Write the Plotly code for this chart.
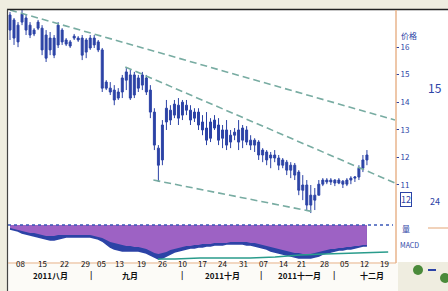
import plotly.graph_objects as go

# ---------------- data ----------------
bar_index = list(range(90))
open_ = [17.17,16.99,16.80,16.91,17.06,16.80,16.62,16.91,16.69,16.44,
         15.90,16.33,16.08,16.62,16.26,16.19,16.40,16.33,16.33,15.82,
         16.33,16.08,16.19,15.90,14.73,14.51,14.44,14.15,14.37,14.80,
         14.99,14.26,14.88,14.62,14.88,14.44,13.64,12.33,11.90,13.28,
         13.71,13.53,13.89,13.53,13.89,13.71,13.42,13.64,13.28,13.06,
         12.69,13.35,13.17,12.69,12.99,12.55,12.80,12.99,12.62,12.99,
         12.62,12.44,12.55,12.08,12.19,11.97,12.08,11.97,11.71,11.82,
         11.53,11.71,11.46,10.80,10.99,10.26,10.62,10.62,11.02,11.17,
         11.10,11.17,11.06,11.13,11.02,11.17,11.24,11.28,11.60,11.90]
high = [17.28,17.06,16.91,17.35,17.17,16.91,16.69,16.99,16.80,16.62,
        16.55,16.44,16.91,16.69,16.33,16.26,16.48,16.40,16.44,16.33,
        16.44,16.44,16.26,15.97,14.80,14.73,14.62,14.51,14.99,15.24,
        15.17,15.10,14.99,15.10,14.99,14.62,13.78,12.44,13.35,14.08,
        13.89,14.08,14.15,14.08,14.08,13.89,13.78,13.78,13.53,13.64,
        13.42,13.53,13.42,13.17,13.35,12.99,13.06,13.35,13.17,13.13,
        12.80,12.69,12.62,12.33,12.26,12.19,12.26,12.08,11.97,11.90,
        11.82,11.79,11.53,11.35,11.17,10.99,10.88,11.17,11.24,11.24,
        11.24,11.20,11.24,11.17,11.24,11.31,11.31,11.71,12.08,12.26]
low = [16.26,16.08,16.00,16.80,16.44,16.33,16.40,16.62,15.71,15.46,
       15.71,15.60,15.97,16.08,16.04,15.97,16.26,16.19,15.53,15.60,
       15.90,15.97,15.82,14.37,14.44,14.26,13.89,14.08,14.15,14.44,
       14.08,14.15,14.37,14.44,14.26,13.42,12.26,11.10,11.71,12.99,
       13.17,13.42,13.17,13.35,13.53,13.17,13.28,12.99,12.80,12.44,
       12.55,12.99,12.44,12.33,12.26,12.33,12.62,12.26,12.33,12.44,
       12.26,12.19,11.90,11.82,11.71,11.60,11.82,11.53,11.60,11.35,
       11.24,11.17,10.62,10.44,10.08,9.97,10.08,10.62,10.95,11.02,
       10.99,10.95,11.02,10.88,10.95,11.02,11.10,11.17,11.46,11.71]
close = [16.62,16.33,16.19,17.20,16.62,16.44,16.48,16.69,15.90,15.60,
         16.33,15.71,16.80,16.19,16.11,16.04,16.33,16.26,15.71,16.26,
         15.97,16.33,15.90,14.51,14.51,14.37,14.08,14.37,14.88,15.10,
         14.15,14.99,14.51,14.99,14.37,13.64,12.44,11.71,13.17,13.78,
         13.35,13.93,13.42,14.00,13.71,13.35,13.64,13.17,12.99,12.62,
         13.28,13.06,12.62,12.99,12.44,12.80,12.91,12.55,13.06,12.55,
         12.44,12.62,12.08,12.26,11.90,12.08,11.97,11.71,11.90,11.53,
         11.71,11.35,10.80,10.99,10.26,10.62,10.44,11.02,11.17,11.10,
         11.17,11.06,11.17,11.02,11.17,11.24,11.28,11.60,11.90,12.08]

# trend lines (index, price)
upper_line_x = [0, 96]
upper_line_y = [17.35, 13.35]
channel_top_x = [28.75, 96]
channel_top_y = [15.28, 11.06]
channel_low_x = [35.75, 75.5]
channel_low_y = [11.17, 10.02]

# MACD-style lower panel
macd_blue = [-0.4,-0.5,-0.6,-0.8,-0.9,-1.0,-1.1,-1.2,-1.3,-1.4,
             -1.5,-1.5,-1.4,-1.3,-1.2,-1.2,-1.2,-1.2,-1.2,-1.2,
             -1.2,-1.3,-1.4,-1.6,-1.9,-2.2,-2.4,-2.5,-2.6,-2.6,
             -2.6,-2.6,-2.6,-2.7,-2.8,-3.0,-3.2,-3.4,-3.3,-3.1,
             -2.9,-2.7,-2.6,-2.5,-2.4,-2.3,-2.3,-2.2,-2.2,-2.1,
             -2.1,-2.0,-2.0,-2.0,-1.9,-1.9,-1.9,-1.9,-1.9,-2.0,
             -2.0,-2.1,-2.2,-2.3,-2.4,-2.6,-2.7,-2.8,-2.9,-3.0,
             -3.1,-3.2,-3.3,-3.3,-3.3,-3.3,-3.2,-3.1,-2.9,-2.8,
             -2.7,-2.6,-2.5,-2.5,-2.4,-2.4,-2.3,-2.2,-2.1,-2.1]
macd_purple = [-0.3,-0.4,-0.5,-0.6,-0.7,-0.8,-0.8,-0.9,-1.0,-1.1,
               -1.1,-1.1,-1.0,-1.0,-1.0,-1.0,-1.0,-1.0,-1.0,-1.0,
               -1.0,-1.1,-1.2,-1.3,-1.5,-1.7,-1.8,-1.9,-2.0,-2.1,
               -2.1,-2.2,-2.2,-2.3,-2.4,-2.6,-2.8,-2.9,-2.8,-2.7,
               -2.5,-2.4,-2.3,-2.2,-2.1,-2.1,-2.0,-2.0,-1.9,-1.9,
               -1.9,-1.8,-1.8,-1.8,-1.8,-1.7,-1.7,-1.7,-1.7,-1.7,
               -1.8,-1.8,-1.9,-2.0,-2.1,-2.2,-2.3,-2.4,-2.5,-2.6,
               -2.7,-2.8,-2.8,-2.9,-2.9,-2.9,-2.8,-2.7,-2.6,-2.5,
               -2.4,-2.4,-2.3,-2.3,-2.2,-2.2,-2.1,-2.1,-2.0,-2.0]
green_x = [36.9, 41.1, 47.4, 53.6, 59.9, 66.1, 72.3, 78.6, 84.8, 91.0, 94.3]
green_y = [-3.4, -3.4, -3.3, -3.3, -3.3, -3.2, -3.0, -2.9, -2.8, -2.7, -2.7]
zero_x = [-0.5, 95.5]
zero_y = [0, 0]

# axis labels
day_pos = [2.5, 8.2, 13.5, 18.7, 22.9, 27.4, 32.7, 37.9, 42.9, 47.9,
           52.9, 58.1, 63.3, 68.3, 72.8, 78.3, 83.3, 88.5, 93.5]
day_labels = ["08","15","22","29","05","13","19","26","10","17",
              "24","31","07","14","21","28","05","12","19"]
month_pos = [10, 20.2, 30, 42.9, 52.9, 62.6, 72.3, 80.8, 90.3]
month_labels = ["2011八月","|","九月","|","2011十月","|","2011十一月","|","十二月"]
price_ticks = [16, 15, 14, 13, 12, 11]
price_tick_text = ["16", "15", "14", "13", "12", "11"]

# ---------------- figure ----------------
W, H = 448, 291
ML, MR, MT, MB = 8, 53, 10, 29
PW, PH = W - ML - MR, H - MT - MB

def px(x):
    return (x - ML) / PW

def py(y):
    return (H - MB - y) / PH

BLUE = "#2c43a6"
CREAM = "#efede0"
FONT = "Noto Sans CJK SC"

fig = go.Figure()

fig.add_trace(go.Scatter(x=bar_index, y=macd_blue, xaxis="x2", yaxis="y2",
                         mode="lines", line=dict(color=BLUE, width=1.5),
                         fill="tozeroy", fillcolor=BLUE, hoverinfo="skip"))
fig.add_trace(go.Scatter(x=bar_index, y=macd_purple, xaxis="x2", yaxis="y2",
                         mode="lines", line=dict(color="#9d62c4", width=0),
                         fill="tozeroy", fillcolor="#9d62c4", hoverinfo="skip"))
fig.add_trace(go.Scatter(x=zero_x, y=zero_y, xaxis="x2", yaxis="y2",
                         mode="lines", line=dict(color="#3a58b8", width=1.5, dash="3px,3px")))
fig.add_trace(go.Scatter(x=green_x, y=green_y, xaxis="x2", yaxis="y2",
                         mode="lines", line=dict(color="#2a9c8c", width=1.5)))

tl = dict(color="#78aca2", width=1.6, dash="7px,4px")
fig.add_trace(go.Scatter(x=upper_line_x, y=upper_line_y, mode="lines", line=tl))
fig.add_trace(go.Scatter(x=channel_top_x, y=channel_top_y, mode="lines", line=tl))
fig.add_trace(go.Scatter(x=channel_low_x, y=channel_low_y, mode="lines", line=tl))

fig.add_trace(go.Candlestick(x=bar_index, open=open_, high=high, low=low, close=close,
                             increasing=dict(line=dict(color=BLUE, width=1), fillcolor=BLUE),
                             decreasing=dict(line=dict(color=BLUE, width=1), fillcolor=BLUE),
                             whiskerwidth=0))

annotations = []
for p, t in zip(day_pos, day_labels):
    annotations.append(dict(x=p, y=py(271), xref="x2", yref="paper", text=t,
                            showarrow=False, font=dict(family=FONT, size=8, color="#111")))
for p, t in zip(month_pos, month_labels):
    annotations.append(dict(x=p, y=py(283), xref="x2", yref="paper", text="<b>" + t + "</b>",
                            showarrow=False, font=dict(family=FONT, size=8, color="#111")))
# right info panel
annotations += [
    dict(x=px(399), y=py(28), xref="paper", yref="paper", text="价格", xanchor="left",
         showarrow=False, font=dict(family=FONT, size=8, color=BLUE)),
    dict(x=px(426), y=py(77), xref="paper", yref="paper", text="15", xanchor="left",
         showarrow=False, font=dict(family=FONT, size=12, color=BLUE)),
    dict(x=px(428), y=py(210), xref="paper", yref="paper", text="24", xanchor="left",
         showarrow=False, font=dict(family=FONT, size=9, color=BLUE)),
    dict(x=px(400), y=py(207), xref="paper", yref="paper", text="12", xanchor="left",
         showarrow=False, borderpad=0, bordercolor=BLUE, borderwidth=1,
         font=dict(family=FONT, size=9, color=BLUE)),
    dict(x=px(400), y=py(236), xref="paper", yref="paper", text="量", xanchor="left",
         showarrow=False, font=dict(family=FONT, size=8, color=BLUE)),
    dict(x=px(398), y=py(252), xref="paper", yref="paper", text="MACD", xanchor="left",
         showarrow=False, font=dict(family=FONT, size=7, color=BLUE)),
]

ORANGE = "#e8b48c"
shapes = [
    dict(type="rect", xref="paper", yref="paper", x0=px(8), x1=px(448), y0=py(262), y1=py(10),
         fillcolor="white", line=dict(width=0), layer="below"),
    dict(type="rect", xref="paper", yref="paper", x0=px(8), x1=px(398), y0=py(291), y1=py(262),
         fillcolor="#fcfbf7", line=dict(width=0), layer="below"),
    dict(type="line", xref="paper", yref="paper", x0=px(7), x1=px(448), y0=py(9.5), y1=py(9.5),
         line=dict(color="#222", width=1.5)),
    dict(type="line", xref="paper", yref="paper", x0=px(7.5), x1=px(7.5), y0=py(9.5), y1=py(291),
         line=dict(color="#444", width=1.2)),
    dict(type="line", xref="paper", yref="paper", x0=px(396), x1=px(396), y0=py(10), y1=py(263),
         line=dict(color=ORANGE, width=1.5)),
    dict(type="line", xref="paper", yref="paper", x0=px(8), x1=px(396), y0=py(263), y1=py(263),
         line=dict(color=ORANGE, width=1.2)),
    dict(type="line", xref="paper", yref="paper", x0=px(428), x1=px(448), y0=py(228), y1=py(228),
         line=dict(color=ORANGE, width=1.2)),
    dict(type="circle", xref="paper", yref="paper", x0=px(413), x1=px(423), y0=py(275), y1=py(265),
         fillcolor="#4a8a3a", line=dict(width=0)),
    dict(type="circle", xref="paper", yref="paper", x0=px(440), x1=px(450), y0=py(283), y1=py(273),
         fillcolor="#4a8a3a", line=dict(width=0)),
    dict(type="line", xref="paper", yref="paper", x0=px(428), x1=px(436), y0=py(270), y1=py(270),
         line=dict(color=BLUE, width=2)),
]

fig.update_layout(
    width=W, height=H,
    margin=dict(l=ML, r=MR, t=MT, b=MB),
    paper_bgcolor=CREAM, plot_bgcolor="white",
    showlegend=False,
    xaxis=dict(domain=[0, 1], range=[-0.5, 96], anchor="y", showticklabels=False,
               showgrid=False, zeroline=False, rangeslider=dict(visible=False),
               automargin=False),
    yaxis=dict(domain=[0.18, 1], range=[9.84, 17.35], side="right", showgrid=False,
               zeroline=False, tickvals=price_ticks, ticktext=price_tick_text,
               ticks="outside", ticklen=3, tickcolor=BLUE, automargin=False,
               tickfont=dict(family=FONT, size=8, color=BLUE)),
    xaxis2=dict(domain=[0, 1], range=[-0.5, 96], anchor="y2", showticklabels=False,
                showgrid=False, zeroline=False, automargin=False),
    yaxis2=dict(domain=[0, 0.18], range=[-3.7, 0.84], showticklabels=False,
                showgrid=False, zeroline=False, automargin=False),
    annotations=annotations,
    shapes=shapes,
)

fig.write_html(
    "out.html",
    config={"displayModeBar": False},
    post_script="document.body.style.margin='0';document.body.style.overflow='hidden';"
                "document.body.style.background='" + CREAM + "';",
)
